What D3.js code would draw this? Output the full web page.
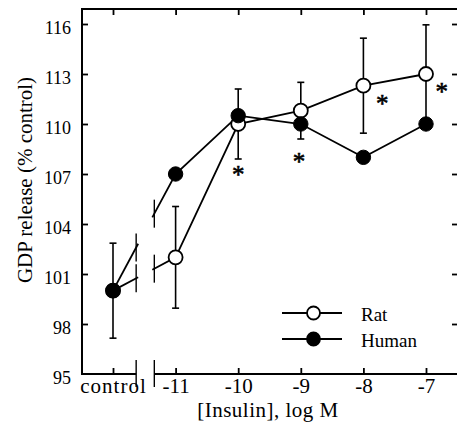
<!DOCTYPE html>
<html><head><meta charset="utf-8">
<script src="https://cdn.jsdelivr.net/npm/d3@7/dist/d3.min.js"></script>
<style>
html,body{margin:0;padding:0;background:#fff;}
svg{display:block;}
svg text{font-family:'Liberation Serif','DejaVu Serif',serif !important;fill:#000;}
</style></head>
<body>
<svg id="chart" width="457" height="437"></svg>
<script>
// ---- data ----
const categories = ["control", "-11", "-10", "-9", "-8", "-7"];
const logDose    = [-12, -11, -10, -9, -8, -7];   // "control" drawn left of the axis break
const ratMean    = [100, 102, 110, 110.8, 112.3, 113];
const ratErr     = [2.85, 3.05, 2.1, 1.7, 2.85, 2.95];
const humanMean  = [100, 107, 110.5, 110, 108, 110];
const yTicks     = [95, 98, 101, 104, 107, 110, 113, 116];
const sigLog     = [-10, -9.03, -7.7, -6.75];      // asterisk positions
const sigVal     = [107.1, 107.9, 111.4, 112.1];
const axisBreak  = [-11.63, -11.34];
const seriesNames = ["Rat", "Human"];

// ---- layout ----
const FONT = "'Liberation Serif','DejaVu Serif',serif";
const svg = d3.select("#chart");
const L = 82, T = 9, B = 374, R = 458;
const x = d3.scaleLinear().domain([-12, -7]).range([113, 426]);
const y = d3.scaleLinear().domain([95, 116.9]).range([B, T]);
const SW = 2;

// frame
const frame = svg.append("g").attr("stroke", "#000").attr("stroke-width", SW).attr("fill", "none");
frame.append("line").attr("x1", L).attr("x2", L).attr("y1", T - 1).attr("y2", B + 1);
frame.append("line").attr("x1", L - 1).attr("x2", R).attr("y1", T).attr("y2", T);
frame.append("line").attr("x1", R).attr("x2", R).attr("y1", T).attr("y2", B);
// bottom axis with break
frame.append("line").attr("x1", L - 1).attr("x2", x(axisBreak[0])).attr("y1", B).attr("y2", B);
frame.append("line").attr("x1", x(axisBreak[1])).attr("x2", R).attr("y1", B).attr("y2", B);
axisBreak.forEach(b => {
  frame.append("line").attr("x1", x(b)).attr("x2", x(b)).attr("y1", B - 14).attr("y2", B + 13)
    .attr("stroke-width", 1.4);
});

// axes (ticks inward)
const xAxis = svg.append("g").attr("transform", `translate(0,${B})`)
  .call(d3.axisBottom(x).tickValues(logDose).tickFormat((d, i) => categories[i])
        .tickSize(-6).tickPadding(4));
const yAxis = svg.append("g").attr("transform", `translate(${L},0)`)
  .call(d3.axisLeft(y).tickValues(yTicks).tickFormat(d3.format("d")).tickSize(-6).tickPadding(11));
const topAxis = svg.append("g").attr("transform", `translate(0,${T})`)
  .call(d3.axisTop(x).tickValues(logDose).tickSize(-6).tickFormat(""));
const rightAxis = svg.append("g").attr("transform", `translate(${R},0)`)
  .call(d3.axisRight(y).tickValues(yTicks.filter(v => v > 95)).tickSize(-6).tickFormat(""));
[xAxis, yAxis, topAxis, rightAxis].forEach(g => {
  g.attr("font-family", FONT);
  g.select(".domain").remove();
  g.selectAll(".tick line").attr("stroke", "#000").attr("stroke-width", 1.8);
});
xAxis.selectAll(".tick text").attr("font-size", 21)
  .attr("letter-spacing", (d, i) => i === 0 ? "1px" : "0px");
yAxis.selectAll(".tick text").attr("font-size", 18).attr("dy", "0.55em");
yAxis.selectAll(".tick line").filter(d => d === 95).remove();

// axis titles
svg.append("text").attr("x", 268).attr("y", 417).attr("text-anchor", "middle").attr("font-family", FONT)
  .attr("font-size", 21).attr("letter-spacing", "0.5px").text("[Insulin], log M");
svg.append("text").attr("transform", "translate(32,180) rotate(-90)").attr("text-anchor", "middle")
  .attr("font-family", FONT).attr("font-size", 21).text("GDP release (% control)");

// series lines (with break between control and -11)
const ptsRat = logDose.map((d, i) => [d, ratMean[i]]);
const ptsHum = logDose.map((d, i) => [d, humanMean[i]]);
const line = d3.line().x(d => x(d[0])).y(d => y(d[1]));
const lg = svg.append("g").attr("stroke", "#000").attr("stroke-width", 1.8).attr("fill", "none");
function interp(p0, p1, xv) { const t = (xv - p0[0]) / (p1[0] - p0[0]); return [xv, p0[1] + t * (p1[1] - p0[1])]; }
const gapL = x.invert(x(axisBreak[0]) + 2), gapR = x.invert(x(axisBreak[1]) - 2);
[ptsRat, ptsHum].forEach(pts => {
  const a = interp(pts[0], pts[1], gapL), b = interp(pts[0], pts[1], gapR);
  lg.append("path").attr("d", line([pts[0], a]));
  lg.append("path").attr("d", line([b].concat(pts.slice(1))));
  axisBreak.forEach(bk => {
    const p = interp(pts[0], pts[1], bk);
    lg.append("line").attr("x1", x(bk)).attr("x2", x(bk)).attr("y1", y(p[1]) - 14).attr("y2", y(p[1]) + 14)
      .attr("stroke-width", 1.4);
  });
});

// error bars (rat)
const eg = svg.append("g").attr("stroke", "#000").attr("stroke-width", 1.6);
logDose.forEach((d, i) => {
  const cx = x(d), y1 = y(ratMean[i] + ratErr[i]), y0 = y(ratMean[i] - ratErr[i]);
  eg.append("line").attr("x1", cx).attr("x2", cx).attr("y1", y1).attr("y2", y0);
  eg.append("line").attr("x1", cx - 3.5).attr("x2", cx + 3.5).attr("y1", y1).attr("y2", y1);
  eg.append("line").attr("x1", cx - 3.5).attr("x2", cx + 3.5).attr("y1", y0).attr("y2", y0);
});

// markers
svg.append("g").selectAll("circle").data(ptsRat).join("circle")
  .attr("cx", d => x(d[0])).attr("cy", d => y(d[1])).attr("r", 7)
  .attr("fill", "#fff").attr("stroke", "#000").attr("stroke-width", 1.8);
svg.append("g").selectAll("circle").data(ptsHum).join("circle")
  .attr("cx", d => x(d[0])).attr("cy", d => y(d[1])).attr("r", 7.2)
  .attr("fill", "#000").attr("stroke", "#000").attr("stroke-width", 1);

// significance asterisks
svg.append("g").selectAll("text").data(sigLog).join("text")
  .attr("x", d => x(d)).attr("y", (d, i) => y(sigVal[i]) + 11)
  .attr("text-anchor", "middle").attr("font-size", 25).attr("font-family", FONT)
  .attr("stroke", "#000").attr("stroke-width", 0.6).text("*");

// legend
const leg = svg.append("g");
const legY = [313, 339];
seriesNames.forEach((name, i) => {
  leg.append("line").attr("x1", 282).attr("x2", 342).attr("y1", legY[i]).attr("y2", legY[i])
    .attr("stroke", "#000").attr("stroke-width", 1.8);
  leg.append("circle").attr("cx", 313.5).attr("cy", legY[i]).attr("r", 6.5)
    .attr("fill", i === 0 ? "#fff" : "#000").attr("stroke", "#000").attr("stroke-width", 1.8);
  leg.append("text").attr("x", 361).attr("y", legY[i] + 8).attr("font-family", FONT)
    .attr("font-size", 19).text(name);
});
</script>
</body></html>
